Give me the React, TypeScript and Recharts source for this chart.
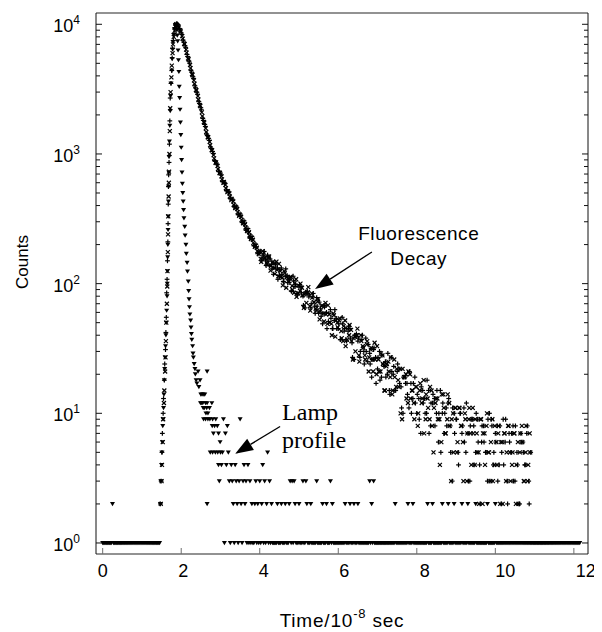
import React from 'react';
import { ScatterChart, Scatter, XAxis, YAxis, ReferenceLine, ReferenceDot } from 'recharts';

// ---------- axes ----------
const X_DOMAIN = [-0.17, 12.36];
const Y_DOMAIN = [0.8222, 12218];
const xTicks = [0, 2, 4, 6, 8, 10, 12];
const yMajorTicks = [1, 10, 100, 1000, 10000];
const yTickLabels: Record<number, string> = { 1: '0', 10: '1', 100: '2', 1000: '3', 10000: '4' };
const yTicks = [
  1, 2, 3, 4, 5, 6, 7, 8, 9,
  10, 20, 30, 40, 50, 60, 70, 80, 90,
  100, 200, 300, 400, 500, 600, 700, 800, 900,
  1000, 2000, 3000, 4000, 5000, 6000, 7000, 8000, 9000,
  10000,
];

// ---------- fluorescence decay, "+" series ----------
const plusStart = 1.9;
const plusStep = 0.05;
const decayPlusCounts = [
  10050, 9260, 8580, 7540, 6810, 5850, 5190, 4410, 3930, 3350, 2990, 2530, 2270, 1880, 1690, 1420, 1320, 1130, 1045, 890,
  850, 735, 712, 615, 604, 522, 515, 452, 448, 392, 396, 340, 345, 296, 305, 258, 266, 224, 231, 196, 201, 170,
  174, 150, 169, 152, 166, 137, 141, 118, 141, 132,
  116, 132, 104, 114, 115, 102, 88, 114, 95, 84,
  94, 95, 80, 65, 84, 79, 65, 79, 67, 78,
  59, 64, 49, 66, 60, 51, 63, 45, 52, 54,
  45, 37, 55, 43, 37, 43, 45, 35, 26, 39,
  36, 27, 37, 30, 38, 25, 29, 19, 31, 27,
  22, 30, 19, 24, 25, 20, 15, 27, 20, 15,
  21, 22, 16, 10, 19, 17, 11, 17, 13, 19,
  10, 13, 7, 15, 13, 10, 15, 8, 12, 13,
  10, 6, 15, 10, 7, 11, 12, 8, 3, 10,
  9, 5, 10, 7, 11, 5, 7, 3, 9, 8,
  5, 9, 4, 6, 8, 5, 3, 10, 9, 4,
  7, 8, 4, 2, 9, 6, 3, 7, 5, 8,
  3, 5, 2, 7, 6, 4, 7, 3, 5,
];
const plusStartB = 1.9125;
const decayPlusCountsB = [
  9900, 9050, 8350, 7300, 6600, 5640, 5020, 4280, 3810, 3240, 2890, 2450, 2190, 1815, 1630, 1385, 1272, 1100, 1008, 876,
  826, 730, 688, 608, 590, 519, 503, 452, 438, 390, 383, 341, 333, 298, 292, 259, 252, 226, 221, 196, 191, 172,
  178, 158, 177, 138, 149, 155, 130, 133, 144, 108,
  128, 118, 103, 130, 102, 107, 87, 105, 98, 82,
  98, 85, 68, 86, 87, 82, 70, 84, 59, 67,
  72, 56, 59, 68, 45, 59, 54, 45, 63, 45,
  49, 37, 49, 45, 36, 47, 38, 27, 40, 41,
  38, 30, 40, 24, 30, 34, 24, 26, 32, 17,
  27, 18, 28, 23, 19, 29, 14, 21, 23, 15,
  24, 17, 11, 19, 17, 14, 21, 10, 17, 12,
  14, 9, 16, 12, 10, 18, 7, 12, 14, 8,
  15, 10, 5, 12, 10, 8, 13, 5, 11, 7,
  9, 4, 10, 8, 6, 12, 3, 8, 9, 4,
  10, 6, 2, 8, 6, 5, 9, 3, 8, 5,
  6, 3, 8, 5, 4, 9, 2, 6, 7, 3,
  8, 4, 2, 6, 5, 4, 8, 2,
];
const plusRise = [
  [1.47, 2], [1.49, 3], [1.51, 5], [1.52, 7], [1.54, 10], [1.55, 13], [1.57, 18], [1.58, 24], [1.6, 31], [1.61, 42],
  [1.62, 55], [1.63, 85], [1.64, 108], [1.65, 150], [1.66, 210], [1.665, 290], [1.67, 410], [1.675, 560], [1.68, 690],
  [1.69, 860], [1.7, 1190], [1.71, 1800], [1.72, 2700], [1.74, 3500], [1.76, 4400], [1.77, 5500], [1.78, 6500],
  [1.8, 7500], [1.82, 8500], [1.84, 9300], [1.86, 9900], [1.88, 10100],
];

// ---------- fluorescence decay, "x" series ----------
const crossStart = 1.925;
const crossStep = 0.05;
const decayCrossCounts = [
  9650, 9020, 8110, 7080, 6370, 5460, 4850, 4130, 3690, 3120, 2790, 2370, 2090, 1760, 1575, 1345, 1240, 1070, 980, 855,
  810, 712, 672, 598, 578, 508, 496, 441, 431, 383, 376, 334, 328, 292, 287, 254, 249, 221, 218, 192, 189, 169,
  155, 178, 159, 145, 158, 126, 145, 132, 148, 114,
  125, 111, 125, 93, 110, 111, 96, 85, 108, 84,
  88, 93, 65, 84, 86, 67, 84, 72, 64, 73,
  53, 67, 59, 71, 49, 58, 49, 59, 39, 50,
  52, 43, 36, 52, 37, 40, 44, 26, 39, 40,
  28, 40, 33, 28, 34, 21, 31, 26, 35, 20,
  26, 21, 28, 15, 23, 25, 19, 14, 26, 16,
  18, 22, 9, 19, 20, 12, 20, 15, 12, 16,
  8, 15, 12, 18, 9, 13, 9, 15, 5, 12,
  13, 9, 6, 14, 7, 9, 12, 3, 10, 11,
  5, 11, 8, 6, 10, 3, 9, 7, 11, 4,
  7, 5, 9, 2, 7, 8, 5, 3, 9, 4,
  6, 7, 2, 6, 7, 3, 8, 5, 4, 7,
  2, 6, 5, 8, 3, 5, 3, 7,
];
const crossStartB = 1.9375;
const decayCrossCountsB = [
  9440, 8790, 7760, 7030, 6050, 5370, 4590, 4080, 3480, 3095, 2630, 2350, 1960, 1745, 1478, 1346, 1168, 1066, 925, 861,
  766, 716, 636, 608, 544, 517, 470, 450, 406, 391, 356, 341, 310, 299, 271, 259, 235, 227, 206, 197, 178, 175,
  147, 168, 157, 141, 162, 137, 148, 119, 128, 142,
  113, 97, 121, 112, 104, 113, 90, 101, 79, 97,
  100, 81, 83, 71, 94, 62, 78, 72, 62, 76,
  61, 68, 51, 58, 68, 50, 40, 57, 52, 46,
  54, 38, 47, 33, 45, 48, 36, 38, 30, 45,
  25, 36, 32, 26, 36, 27, 32, 21, 26, 33,
  21, 29, 24, 15, 24, 21, 27, 15, 19, 22,
  16, 10, 22, 19, 13, 21, 13, 15, 9, 16,
  10, 17, 13, 7, 14, 11, 16, 8, 11, 13,
  9, 4, 14, 11, 7, 14, 8, 9, 5, 11,
  6, 11, 8, 3, 9, 7, 11, 4, 7, 9,
  5, 2, 9, 7, 4, 10, 5, 6, 3, 8,
  4, 8, 6, 2, 7, 5, 8, 3, 5, 7,
  4, 2, 7, 6, 3, 8, 4, 5,
];
const crossRise = [
  [1.48, 2], [1.5, 3], [1.51, 4], [1.53, 6], [1.54, 9], [1.56, 12], [1.57, 15], [1.59, 21], [1.6, 27], [1.61, 36],
  [1.62, 50], [1.635, 70], [1.645, 95], [1.65, 125], [1.66, 175], [1.665, 240], [1.67, 330], [1.68, 470], [1.685, 600],
  [1.69, 730], [1.7, 1000], [1.71, 1500], [1.72, 2250], [1.73, 3000], [1.75, 3900], [1.76, 4800], [1.78, 6000],
  [1.79, 7000], [1.81, 8000], [1.83, 8900], [1.85, 9600], [1.87, 10000], [1.89, 9900],
];

// ---------- lamp profile (triangles) ----------
const lampHeadStart = 0;
const lampHeadStep = 0.025;
const lampHeadCounts = [
  1, 1, 1, 1, 1, 1, 1, 1, 1, 1, 2, 1, 1, 1, 1, 1, 1, 1, 1, 1,
  1, 1, 1, 1, 1, 1, 1, 1, 1, 1, 1, 1, 1, 1, 1, 1, 1, 1, 1, 1,
  1, 1, 1, 1, 1, 1, 1, 1, 1, 1, 1, 1, 1, 1, 1, 1, 1, 1, 1,
];
const lampPeak = [
  [1.47, 2], [1.48, 3], [1.5, 4], [1.51, 5], [1.52, 6], [1.53, 8], [1.54, 9], [1.55, 11], [1.56, 14], [1.57, 18],
  [1.58, 22], [1.59, 27], [1.6, 33], [1.61, 40], [1.62, 50], [1.63, 62], [1.64, 80], [1.645, 100], [1.65, 125],
  [1.655, 160], [1.66, 200], [1.665, 260], [1.67, 330], [1.675, 430], [1.68, 560], [1.685, 720], [1.69, 950],
  [1.7, 1250], [1.71, 1650], [1.72, 2150], [1.73, 2800], [1.74, 3500], [1.76, 4400], [1.77, 5400], [1.78, 6400],
  [1.79, 7300], [1.81, 8300], [1.83, 9200], [1.85, 9900], [1.87, 9700],
  [1.89, 9000], [1.9, 8200], [1.91, 7400], [1.92, 6300], [1.93, 5300], [1.94, 4300], [1.95, 3300], [1.96, 2700],
  [1.97, 2200], [1.98, 1750], [1.99, 1400], [2.0, 1120], [2.01, 900], [2.02, 720], [2.03, 590], [2.04, 500],
  [2.05, 430], [2.06, 370], [2.07, 320], [2.09, 275], [2.1, 235], [2.12, 200], [2.13, 170], [2.15, 145], [2.16, 124],
  [2.18, 104], [2.19, 88], [2.2, 76], [2.21, 66], [2.22, 58], [2.24, 52], [2.25, 46], [2.26, 41], [2.27, 37],
  [2.29, 33], [2.3, 29], [2.31, 27], [2.33, 24], [2.35, 22], [2.36, 20], [2.38, 18], [2.4, 17], [2.43, 21], [2.45, 16],
  [2.48, 18], [2.66, 21],
  [2.5, 14], [2.53, 14], [2.56, 14], [2.6, 14], [2.49, 12], [2.52, 12], [2.55, 12], [2.62, 12], [2.66, 12], [2.78, 12],
  [2.56, 11], [2.59, 11], [2.65, 11], [2.72, 11], [2.63, 10], [2.68, 10], [2.57, 9], [2.62, 9], [2.68, 9], [2.73, 9],
  [2.8, 9], [2.88, 9], [2.79, 8], [2.85, 8], [2.92, 8], [2.82, 7], [2.95, 7], [2.99, 6], [2.74, 5], [2.8, 5],
  [2.87, 5], [2.93, 5], [2.95, 4], [2.97, 3], [2.66, 2],
];
const lampTailStart = 3.0;
const lampTailStep = 0.025;
const lampTailCounts = [
  5, 4, 5, 9, 1, 7, 4, 8, 5, 3, 1, 4, 3, 2, 1, 4, 3, 2, 1, 3,
  9, 2, 1, 3, 4, 2, 3, 1, 4, 1, 3, 1, 2, 1, 1, 2, 3, 1, 2, 1,
  3, 1, 2, 4, 1, 3, 1, 2, 5, 1, 3, 1, 2, 1, 1, 1, 1, 1, 2, 1,
  1, 1, 2, 1, 1, 1, 2, 1, 1, 1, 2, 3, 1, 3, 1, 3, 2, 1, 1, 1,
  2, 1, 1, 1, 3, 1, 1, 3, 2, 1, 1, 1, 2, 1, 1, 1, 1, 1, 3, 1,
  1, 1, 1, 1, 2, 1, 1, 1, 2, 1, 1, 1, 3, 1, 2, 1, 1, 1, 1, 1,
  1, 1, 1, 1, 1, 1, 1, 2, 1, 1, 1, 1, 2, 1, 1, 1, 2, 1, 1, 1,
  2, 1, 1, 1, 1, 1, 1, 1, 1, 1, 1, 1, 3, 1, 2, 1, 3, 1, 1, 1,
  1, 1, 1, 1, 1, 1, 1, 1, 1, 1, 1, 1, 1, 1, 1, 1, 1, 1, 2, 1,
  1, 1, 1, 1, 1, 1, 1, 1, 1, 1, 1, 2, 1, 1, 1, 1, 2, 1, 1, 1,
  1, 1, 1, 1, 1, 1, 1, 1, 1, 1, 1, 2, 1, 1, 1, 1, 2, 1, 1, 1,
  1, 1, 1, 1, 1, 1, 2, 1, 1, 1, 1, 1, 2, 1, 1, 1, 1, 1, 2, 1,
  1, 1, 1, 1, 1, 1, 2, 1, 1, 1, 1, 1, 2, 1, 1, 1, 1, 1, 1, 1,
  2, 1, 1, 1, 1, 1, 1, 1, 1, 1, 1, 1, 2, 1, 1, 1, 1, 1, 1, 1,
  2, 1, 1, 1, 1, 1, 1, 1, 1, 1, 1, 1, 1, 1, 1, 1, 1, 1, 1, 1,
  1, 1, 1, 1, 1, 1, 1, 1, 1, 1, 1, 1, 1, 1, 1, 1, 1, 1, 1, 1,
  1, 1, 1, 1, 1, 1, 1, 1, 1, 1, 1, 1, 1, 1, 1, 1, 1, 1, 1, 1,
  1, 1, 1, 1, 1, 1, 1, 1, 1, 1, 1, 1, 1, 1, 1, 1, 1, 1, 1, 1,
  1, 1, 1, 1, 1, 1, 1,
];

// ---------- annotations (data coordinates) ----------
const fluoLabel = { x: 8.05, line1: 217, line2: 139.3, text1: 'Fluorescence', text2: 'Decay' };
const fluoArrow = { from: { x: 6.857, y: 175.5 }, to: { x: 5.408, y: 91 } };
const lampLabel = { x: 4.569, line1: 8.91, line2: 5.42, text1: 'Lamp', text2: 'profile' };
const lampArrow = { from: { x: 4.518, y: 7.91 }, to: { x: 3.374, y: 4.875 } };

// ---------- build data ----------
const fromChannels = (start: number, step: number, counts: number[]) =>
  counts.map((c, i) => ({ x: +(start + i * step).toFixed(4), y: c }));
const fromPairs = (pairs: number[][]) => pairs.map(([x, y]) => ({ x, y }));

const plusData = [
  ...fromPairs(plusRise),
  ...fromChannels(plusStart, plusStep, decayPlusCounts),
  ...fromChannels(plusStartB, plusStep, decayPlusCountsB),
];
const crossData = [
  ...fromPairs(crossRise),
  ...fromChannels(crossStart, crossStep, decayCrossCounts),
  ...fromChannels(crossStartB, crossStep, decayCrossCountsB),
];
const lampData = [
  ...fromChannels(lampHeadStart, lampHeadStep, lampHeadCounts),
  ...fromPairs(lampPeak),
  ...fromChannels(lampTailStart, lampTailStep, lampTailCounts),
];

// ---------- styling ----------
const SANS = '"Liberation Sans", Arial, Helvetica, sans-serif';
const SERIF = '"Liberation Serif", "Times New Roman", Times, serif';
const SIDE = '#111';
const TOPBOT = '#6e6e6e';

const PlusShape = (p: any) => (
  <g>
    <line x1={p.cx - 2.4} x2={p.cx + 2.4} y1={p.cy} y2={p.cy} stroke="#000" strokeWidth={1.2} />
    <line x1={p.cx} x2={p.cx} y1={p.cy - 2.4} y2={p.cy + 2.4} stroke="#000" strokeWidth={1.2} />
  </g>
);
const CrossShape = (p: any) => (
  <g>
    <line x1={p.cx - 2} x2={p.cx + 2} y1={p.cy - 2} y2={p.cy + 2} stroke="#000" strokeWidth={1.2} />
    <line x1={p.cx - 2} x2={p.cx + 2} y1={p.cy + 2} y2={p.cy - 2} stroke="#000" strokeWidth={1.2} />
  </g>
);
const TriangleShape = (p: any) => (
  <path d={`M${p.cx - 2.5},${p.cy - 1.9}L${p.cx + 2.5},${p.cy - 1.9}L${p.cx},${p.cy + 2.3}Z`} fill="#000" />
);

const BottomTick = (p: any) => {
  const { x, y, payload } = p;
  return (
    <g>
      <line x1={x} x2={x} y1={y} y2={y - 6} stroke={TOPBOT} />
      <text x={x + payload.value * 1.0} y={y + 23} textAnchor="middle" fontSize={18} fontFamily={SANS} fill="#000">
        {payload.value}
      </text>
    </g>
  );
};
const TopTick = (p: any) => <line x1={p.x} x2={p.x} y1={p.y} y2={p.y + 6} stroke={TOPBOT} />;
const LeftTick = (p: any) => {
  const { x, y, payload } = p;
  const major = yMajorTicks.includes(payload.value);
  return (
    <g>
      <line x1={x} x2={x + (major ? 6 : 4)} y1={y} y2={y} stroke={SIDE} />
      {major && (
        <text x={x - 16} y={y + 8} textAnchor="end" fontSize={18} fontFamily={SANS} fill="#000">
          10
          <tspan dy={-8} fontSize={12}>
            {yTickLabels[payload.value]}
          </tspan>
        </text>
      )}
    </g>
  );
};
const RightTick = (p: any) => {
  const major = yMajorTicks.includes(p.payload.value);
  return <line x1={p.x} x2={p.x - (major ? 6 : 4)} y1={p.y} y2={p.y} stroke={SIDE} />;
};

const ArrowShape = (p: any) => {
  const { x1, y1, x2, y2 } = p;
  const dx = x1 - x2;
  const dy = y1 - y2;
  const len = Math.hypot(dx, dy) || 1;
  const ux = dx / len;
  const uy = dy / len;
  const HL = 18;
  const HW = 6.5;
  const bx = x2 + ux * HL;
  const by = y2 + uy * HL;
  const nx = -uy;
  const ny = ux;
  return (
    <g>
      <line x1={x1} y1={y1} x2={bx} y2={by} stroke="#000" strokeWidth={1.3} />
      <polygon points={`${x2},${y2} ${bx + nx * HW},${by + ny * HW} ${bx - nx * HW},${by - ny * HW}`} fill="#000" />
    </g>
  );
};

const textAt = (txt: string, font: string, size: number, anchor: string, spacing = 0) => (p: any) => (
  <text x={p.cx} y={p.cy} textAnchor={anchor} fontSize={size} fontFamily={font} fill="#000" letterSpacing={spacing}>
    {txt}
  </text>
);

export default function App() {
  return (
    <ScatterChart width={590} height={622} margin={{ top: 4, right: 9, bottom: 0, left: 0 }}>
      <XAxis
        xAxisId={0}
        type="number"
        dataKey="x"
        domain={X_DOMAIN}
        ticks={xTicks}
        interval={0}
        allowDataOverflow
        height={76}
        tickSize={0}
        tickMargin={0}
        tickLine={false}
        axisLine={{ stroke: TOPBOT, strokeWidth: 1.5 }}
        tick={(p: any) => <BottomTick {...p} />}
        label={{
          content: () => (
            <text x={334} y={619} textAnchor="middle" fontSize={19} fontFamily={SANS} fill="#000" letterSpacing={0.8}>
              Time/10
              <tspan dy={-9} fontSize={13}>
                -8
              </tspan>
              <tspan dy={9}> sec</tspan>
            </text>
          ),
        }}
      />
      <XAxis
        xAxisId="top"
        orientation="top"
        type="number"
        domain={X_DOMAIN}
        ticks={xTicks}
        interval={0}
        allowDataOverflow
        height={1}
        tickSize={0}
        tickMargin={0}
        tickLine={false}
        axisLine={{ stroke: TOPBOT, strokeWidth: 1.5 }}
        tick={(p: any) => <TopTick {...p} />}
      />
      <YAxis
        yAxisId={0}
        type="number"
        dataKey="y"
        scale="log"
        domain={Y_DOMAIN}
        ticks={yTicks}
        interval={0}
        allowDataOverflow
        width={88}
        tickSize={0}
        tickMargin={0}
        tickLine={false}
        axisLine={{ stroke: SIDE }}
        tick={(p: any) => <LeftTick {...p} />}
        label={{
          content: () => (
            <text
              x={14}
              y={254}
              transform="rotate(-90, 14, 254)"
              textAnchor="middle"
              dominantBaseline="central"
              fontSize={17}
              fontFamily={SANS}
              fill="#000"
            >
              Counts
            </text>
          ),
        }}
      />
      <YAxis
        yAxisId="right"
        orientation="right"
        type="number"
        scale="log"
        domain={Y_DOMAIN}
        ticks={yTicks}
        interval={0}
        allowDataOverflow
        width={1}
        tickSize={0}
        tickMargin={0}
        tickLine={false}
        axisLine={{ stroke: SIDE }}
        tick={(p: any) => <RightTick {...p} />}
      />
      <Scatter data={lampData} shape={TriangleShape} isAnimationActive={false} legendType="none" />
      <Scatter data={crossData} shape={CrossShape} isAnimationActive={false} legendType="none" />
      <Scatter data={plusData} shape={PlusShape} isAnimationActive={false} legendType="none" />
      <ReferenceLine segment={[fluoArrow.from, fluoArrow.to]} ifOverflow="visible" shape={(p: any) => <ArrowShape {...p} />} />
      <ReferenceLine segment={[lampArrow.from, lampArrow.to]} ifOverflow="visible" shape={(p: any) => <ArrowShape {...p} />} />
      <ReferenceDot x={fluoLabel.x} y={fluoLabel.line1} r={1} ifOverflow="visible" shape={textAt(fluoLabel.text1, SANS, 19, 'middle', 0.6)} />
      <ReferenceDot x={fluoLabel.x} y={fluoLabel.line2} r={1} ifOverflow="visible" shape={textAt(fluoLabel.text2, SANS, 19, 'middle', 0.6)} />
      <ReferenceDot x={lampLabel.x} y={lampLabel.line1} r={1} ifOverflow="visible" shape={textAt(lampLabel.text1, SERIF, 24, 'start')} />
      <ReferenceDot x={lampLabel.x} y={lampLabel.line2} r={1} ifOverflow="visible" shape={textAt(lampLabel.text2, SERIF, 24, 'start')} />
    </ScatterChart>
  );
}
